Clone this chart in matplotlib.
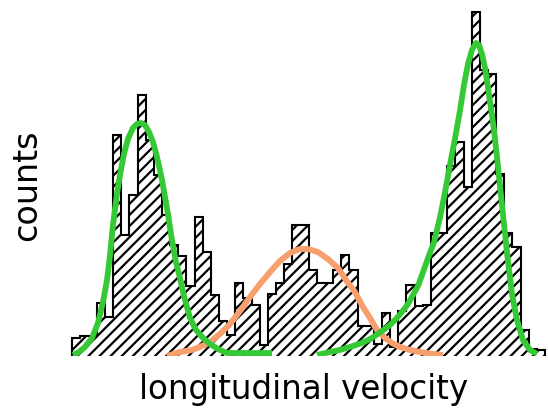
import numpy as np
import matplotlib
matplotlib.use('Agg')
import matplotlib.pyplot as plt

# histogram of longitudinal velocity, 58 equal bins
bin_edges = np.arange(0, 59)
counts = [1.9, 2.1, 2.1, 5.7, 4.2, 23.8, 13.0, 17.3, 28.1, 23.2,
          19.5, 15.2, 11.9, 10.7, 7.5, 14.9, 11.2, 6.6, 3.8, 2.3,
          7.9, 6.2, 5.5, 1.2, 6.7, 7.8, 9.9, 14.1, 14.1, 9.3,
          7.9, 7.9, 9.3, 10.9, 9.3, 3.2, 3.2, 1.3, 4.6, 1.0,
          4.8, 7.6, 5.4, 5.5, 13.2, 13.2, 20.4, 23.0, 18.2, 37.0,
          30.8, 30.3, 19.6, 13.2, 11.7, 2.8, 0.8, 0.6]

# fitted peak profiles
left_fit_x = [0.09, 0.82, 1.56, 2.42, 3.15, 3.77, 4.26, 4.63, 4.99, 5.48,
              5.85, 6.34, 6.83, 7.44, 7.94, 8.43, 8.92, 9.41, 9.90, 10.27,
              10.64, 11.01, 11.37, 11.74, 12.23, 12.72, 13.21, 13.70, 14.44, 15.18,
              16.04, 16.90, 17.88, 18.98, 21.80, 24.50]
left_fit_y = [0.11, 0.43, 0.97, 1.94, 3.55, 5.81, 8.17, 10.86, 14.09, 17.42,
              19.46, 21.72, 23.33, 24.52, 24.95, 25.05, 24.84, 24.09, 23.01, 21.83,
              20.43, 18.92, 17.10, 15.27, 12.47, 10.11, 8.39, 6.45, 4.09, 2.80,
              1.94, 1.29, 0.75, 0.32, 0.32, 0.32]

right_fit_x = [30.02, 31.62, 32.85, 34.07, 35.55, 36.77, 38.00, 38.98, 39.72, 40.45,
               41.19, 41.80, 42.42, 43.04, 43.65, 44.39, 45.13, 45.74, 46.36, 46.97,
               47.58, 48.06, 48.55, 49.04, 49.53, 49.90, 50.27, 50.64, 51.01, 51.37,
               51.74, 52.11, 52.48, 52.85, 53.34, 53.95, 54.56, 55.30, 56.16, 57.02]
right_fit_y = [0.11, 0.43, 0.65, 0.97, 1.40, 1.94, 2.69, 3.33, 3.98, 4.73,
               5.59, 6.56, 7.53, 9.03, 10.54, 12.26, 14.95, 17.63, 20.65, 23.44,
               26.45, 29.14, 31.40, 32.90, 33.66, 33.44, 32.47, 30.97, 28.82, 26.67,
               24.30, 21.40, 18.28, 15.16, 11.08, 6.67, 3.87, 1.72, 0.65, 0.22]

mid_fit_x = [11.62, 13.21, 14.69, 15.67, 16.90, 18.12, 19.35, 20.58, 21.80, 23.03,
             24.26, 25.48, 26.71, 27.93, 28.92, 30.14, 31.37, 32.60, 33.58, 34.68,
             35.67, 36.53, 37.39, 38.37, 39.23, 40.21, 41.44, 42.66, 44.13, 45.48]
mid_fit_y = [0.0, 0.43, 0.65, 0.97, 1.51, 2.37, 3.44, 4.84, 6.34, 7.74,
             9.03, 10.22, 11.08, 11.51, 11.51, 11.18, 10.43, 9.46, 8.17, 6.88,
             5.27, 4.09, 2.80, 1.94, 1.40, 0.97, 0.65, 0.43, 0.22, 0.11]

plt.rcParams['hatch.linewidth'] = 1.6
plt.rcParams['hatch.color'] = 'black'

fig = plt.figure(figsize=(5.48, 4.17), dpi=100)
ax = fig.add_axes([72.3 / 548, 61 / 417, (545 - 72.3) / 548, 356 / 417])

ax.stairs(counts, bin_edges, fill=True, facecolor='white', edgecolor='black',
          hatch='///', linewidth=1.5, clip_on=False, zorder=1)

ax.plot(left_fit_x, left_fit_y, color='#36c936', linewidth=4.2, solid_capstyle='butt', zorder=3)
ax.plot(right_fit_x, right_fit_y, color='#36c936', linewidth=4.2, solid_capstyle='butt', zorder=3)
ax.plot(mid_fit_x, mid_fit_y, color='#f7a06e', linewidth=4.3, solid_capstyle='butt', zorder=2)

ax.set_xlim(0, 58)
ax.set_ylim(0, 356 / 9.3)
ax.axis('off')

fig.text(304 / 548, 1 - 390 / 417, 'longitudinal velocity', fontsize=23.5,
         ha='center', va='center')
fig.text(27 / 548, 1 - 185 / 417, 'counts', fontsize=24, rotation=90,
         ha='center', va='center')

fig.savefig('out.png', dpi=100)
